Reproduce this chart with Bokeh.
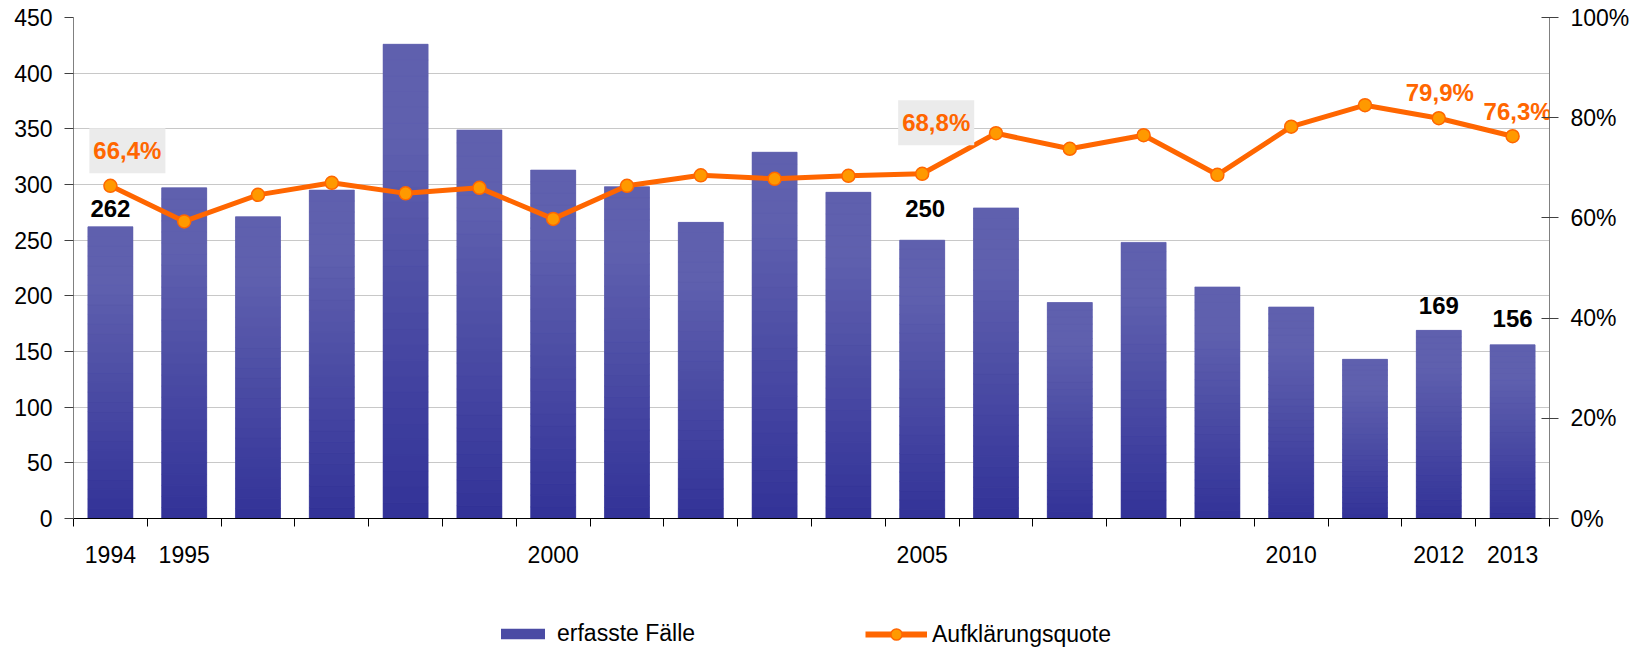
from bokeh.plotting import figure
from bokeh.layouts import column
from bokeh.models import (Range1d, LinearAxis, FixedTicker, PrintfTickFormatter,
                          ColumnDataSource, Legend, LegendItem)
from bokeh.core.properties import value
from bokeh.embed import file_html
from bokeh.resources import INLINE

# ---------------- data ----------------
years = list(range(1994, 2014))
cases = [262, 297, 271, 295, 426, 349, 313, 298, 266, 329,
         293, 250, 279, 194, 248, 208, 190, 143, 169, 156]
rate = [66.4, 59.3, 64.6, 67.0, 64.9, 66.0, 59.8, 66.4, 68.5, 67.8,
        68.4, 68.8, 76.9, 73.8, 76.5, 68.6, 78.2, 82.5, 79.9, 76.3]
year_tick_labels = {1994: "1994", 1995: "1995", 2000: "2000", 2005: "2005",
                    2010: "2010", 2012: "2012", 2013: "2013"}
left_ticks = [0, 50, 100, 150, 200, 250, 300, 350, 400, 450]
right_ticks = [0, 20, 40, 60, 80, 100]
case_label_years = [1994, 2005, 2012, 2013]
rate_box_years = [1994, 2005]
rate_plain_years = [2012, 2013]
series_names = ["erfasste Fälle", "Aufklärungsquote"]

FONT_NAME = "Liberation Sans"
FONT = value(FONT_NAME)
BAR_LIGHT = (95, 96, 174)
BAR_DARK = (50, 50, 152)
LINE_COLOR = "#ff6600"
MARK_FILL = "#ff9900"

W = 1640
p = figure(width=W, height=580, output_backend="svg", toolbar_location=None,
           x_range=Range1d(years[0] - 0.5, years[-1] + 0.5), y_range=Range1d(0, 450),
           min_border_left=73, min_border_right=91, min_border_top=17, min_border_bottom=62)
p.extra_y_ranges = {"pct": Range1d(0, 100)}
p.outline_line_color = None
p.background_fill_color = "white"

# ---------------- bars with vertical gradient ----------------
BAR_W = 0.61
N = 30
sx, sb, st, sc = [], [], [], []
for y, v in zip(years, cases):
    for k in range(N):
        t0, t1 = k / N, (k + 1) / N
        tm = (t0 + t1) / 2
        s = min(1.0, tm / 0.8)
        c = tuple(int(round(d + (l - d) * s)) for d, l in zip(BAR_DARK, BAR_LIGHT))
        sx.append(y)
        sb.append(v * t0)
        st.append(v * t1)
        sc.append("#%02x%02x%02x" % c)
bar_src = ColumnDataSource(dict(x=years, top=cases))
p.vbar(x="x", top="top", bottom=0, width=BAR_W, source=bar_src,
       fill_color="#5a5cab", line_color=None)
seg_src = ColumnDataSource(dict(x=sx, bottom=sb, top=st, color=sc))
p.vbar(x="x", bottom="bottom", top="top", width=BAR_W, source=seg_src,
       fill_color="color", line_color="color", line_width=0.6)

# ---------------- line ----------------
line_src = ColumnDataSource(dict(x=years, y=rate))
p.line("x", "y", source=line_src, y_range_name="pct",
       line_color=LINE_COLOR, line_width=5)
p.scatter("x", "y", source=line_src, y_range_name="pct", size=13,
          fill_color=MARK_FILL, line_color=LINE_COLOR, line_width=1.5)

# ---------------- data labels ----------------
cl_src = ColumnDataSource(dict(
    x=case_label_years,
    y=[cases[years.index(y)] for y in case_label_years],
    t=[str(cases[years.index(y)]) for y in case_label_years],
    xo=[0, 3, 0, 0], yo=[-18, -32, -25, -26]))
p.text("x", "y", text="t", source=cl_src, x_offset="xo", y_offset="yo",
       text_font=FONT, text_font_style="bold", text_font_size="24px",
       text_color="black", text_align="center", text_baseline="middle")


def fmt(v):
    return ("%.1f" % v).replace(".", ",") + "%"


rb_src = ColumnDataSource(dict(
    x=rate_box_years,
    y=[rate[years.index(y)] for y in rate_box_years],
    t=[fmt(rate[years.index(y)]) for y in rate_box_years],
    xo=[17, 14], yo=[-35, -51]))
p.text("x", "y", text="t", source=rb_src, x_offset="xo", y_offset="yo",
       y_range_name="pct",
       text_font=FONT, text_font_style="bold", text_font_size="24px",
       text_color=LINE_COLOR, text_align="center", text_baseline="middle",
       background_fill_color="#ebebeb", padding=(4, 9))

rp_src = ColumnDataSource(dict(
    x=rate_plain_years,
    y=[rate[years.index(y)] for y in rate_plain_years],
    t=[fmt(rate[years.index(y)]) for y in rate_plain_years],
    xo=[1, 5], yo=[-26, -25]))
p.text("x", "y", text="t", source=rp_src, x_offset="xo", y_offset="yo",
       y_range_name="pct",
       text_font=FONT, text_font_style="bold", text_font_size="24px",
       text_color=LINE_COLOR, text_align="center", text_baseline="middle")

# ---------------- axes ----------------
xa = p.xaxis[0]
xa.ticker = FixedTicker(ticks=list(year_tick_labels.keys()),
                        minor_ticks=[y - 0.5 for y in years] + [years[-1] + 0.5])
xa.major_label_overrides = year_tick_labels
xa.major_tick_in = 0
xa.major_tick_out = 0
xa.minor_tick_in = 0
xa.minor_tick_out = 8
xa.minor_tick_line_color = "black"
xa.axis_line_color = "black"
xa.major_label_standoff = 19
xa.major_label_text_font = FONT_NAME
xa.major_label_text_font_size = "23px"
xa.major_label_text_color = "black"

ya = p.yaxis[0]
ya.ticker = FixedTicker(ticks=left_ticks)
ya.axis_line_color = "#808080"
ya.major_tick_in = 0
ya.major_tick_out = 9
ya.major_tick_line_color = "#404040"
ya.minor_tick_line_color = None
ya.major_label_standoff = 12
ya.major_label_text_font = FONT_NAME
ya.major_label_text_font_size = "23px"
ya.major_label_text_color = "black"

ra = LinearAxis(y_range_name="pct", ticker=FixedTicker(ticks=right_ticks),
                formatter=PrintfTickFormatter(format="%d%%"))
ra.axis_line_color = "#808080"
ra.major_tick_in = 8
ra.major_tick_out = 9
ra.major_tick_line_color = "#404040"
ra.minor_tick_line_color = None
ra.major_label_standoff = 12
ra.major_label_text_font = FONT_NAME
ra.major_label_text_font_size = "23px"
ra.major_label_text_color = "black"
p.add_layout(ra, "right")

p.xgrid.visible = False
p.ygrid.ticker = FixedTicker(ticks=left_ticks)
p.ygrid.grid_line_color = "#c8c8c8"
p.ygrid.grid_line_width = 1

# ---------------- legend (own strip below the chart) ----------------
lg = figure(width=W, height=68, output_backend="svg", toolbar_location=None,
            x_range=Range1d(0, 1), y_range=Range1d(0, 1),
            min_border_left=0, min_border_right=0, min_border_top=0, min_border_bottom=0)
lg.axis.visible = False
lg.grid.visible = False
lg.outline_line_color = None
# swatch sources lie outside the visible range; only the legends show them
swatch = ColumnDataSource(dict(x=[-10.0], top=[-10.0], y=[-10.0]))
lbar = lg.vbar(x="x", top="top", width=0.1, source=swatch,
               fill_color="#4a4ba4", line_color=None)
lline = lg.line("x", "y", source=swatch, line_color=LINE_COLOR, line_width=6)
lmark = lg.scatter("x", "y", source=swatch, size=13,
                   fill_color=MARK_FILL, line_color=LINE_COLOR, line_width=1.5)
common = dict(orientation="horizontal", padding=0, margin=0,
              border_line_color=None, background_fill_alpha=0,
              label_text_font=FONT_NAME, label_text_font_size="23px",
              label_text_color="black", label_height=20)
leg1 = Legend(items=[LegendItem(label=series_names[0], renderers=[lbar])],
              location=(422, 1), glyph_width=55, glyph_height=13,
              label_standoff=7, **common)
leg2 = Legend(items=[LegendItem(label=series_names[1], renderers=[lline, lmark])],
              location=(792, 0), glyph_width=62, glyph_height=28,
              label_standoff=5, **common)
lg.add_layout(leg1)
lg.add_layout(leg2)

layout = column(p, lg, spacing=0)
open("out.html", "w").write(file_html(layout, INLINE))
